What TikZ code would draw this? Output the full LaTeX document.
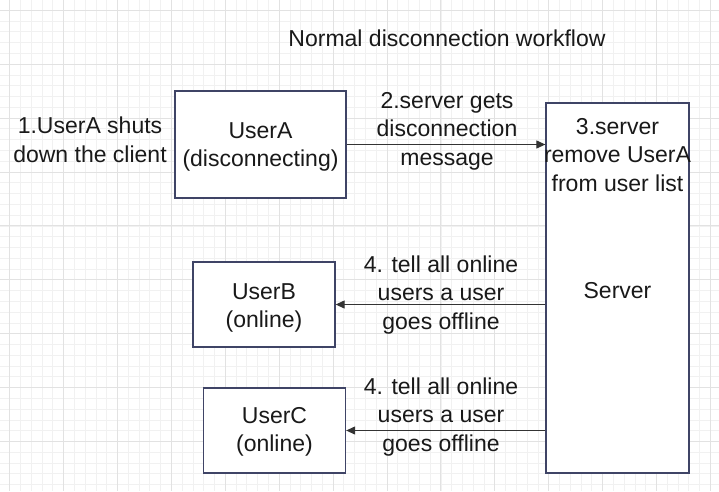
\documentclass[tikz,border=0pt]{standalone}
\usepackage{fontspec}
\setmainfont{Liberation Sans}
\usetikzlibrary{arrows.meta}
\definecolor{boxline}{HTML}{3F4466}
\definecolor{gridminor}{HTML}{F1F1F1}
\definecolor{gridmajor}{HTML}{E2E2E2}
\tikzset{
  txt/.style={align=center, inner sep=0pt, font=\fontsize{23}{28.5}\selectfont, text=black!90},
  box/.style={draw=boxline, line width=1.3pt, fill=white, inner sep=0pt},
  arr/.style={draw=black!80, line width=1.1pt, -{Triangle[length=9pt,width=8pt]}}
}
\begin{document}
\begin{tikzpicture}[x=1pt,y=-1pt]
\useasboundingbox (0,0) rectangle (719,491);
\fill[white] (0,0) rectangle (719,491);
% grid
\foreach \i in {0,...,67} {
  \pgfmathsetmacro\xx{-1.08+10.78*\i}
  \draw[gridminor, line width=0.8pt] (\xx,0) -- (\xx,491);
}
\foreach \i in {0,...,46} {
  \pgfmathsetmacro\yy{-0.48+10.78*\i}
  \draw[gridminor, line width=0.8pt] (0,\yy) -- (719,\yy);
}
\foreach \i in {0,...,13} {
  \pgfmathsetmacro\xx{9.7+53.9*\i}
  \draw[gridmajor, line width=1pt] (\xx,0) -- (\xx,491);
}
\foreach \i in {0,...,9} {
  \pgfmathsetmacro\yy{10.3+53.9*\i}
  \draw[gridmajor, line width=1pt] (0,\yy) -- (719,\yy);
}
% boxes
\node[box, minimum width=171pt, minimum height=107pt] (A) at (260.5,144.5) {};
\node[box, minimum width=143pt, minimum height=370pt] (S) at (617.5,288) {};
\node[box, minimum width=142pt, minimum height=85pt] (B) at (264,304.5) {};
\node[box, minimum width=142pt, minimum height=85pt] (C) at (274.5,430.5) {};
% texts
\node[txt] (title) at (447,38) {Normal disconnection workflow};
\node[txt] (l1) at (90,140) {1.UserA shuts\\down the client};
\node[txt] (ta) at (260.5,147) {UserA\\(disconnecting)};
\node[txt] (l2) at (447,131) {2.server gets\\disconnection\\message};
\node[txt] (ts) at (617.5,155) {3.server\\remove UserA\\from user list};
\node[txt] (ts2) at (617.5,291) {Server};
\node[txt] (tb) at (264,308) {UserB\\(online)};
\node[txt] (l4a) at (441,295) {4. tell all online\\users a user\\goes offline};
\node[txt] (tc) at (274.5,432) {UserC\\(online)};
\node[txt] (l4b) at (441,417) {4. tell all online\\users a user\\goes offline};
% arrows
\draw[arr] (A.east) -- (A.east -| S.west);
\draw[arr] (S.west |- B.east) -- (B.east);
\draw[arr] (S.west |- C.east) -- (C.east);
\end{tikzpicture}
\end{document}
